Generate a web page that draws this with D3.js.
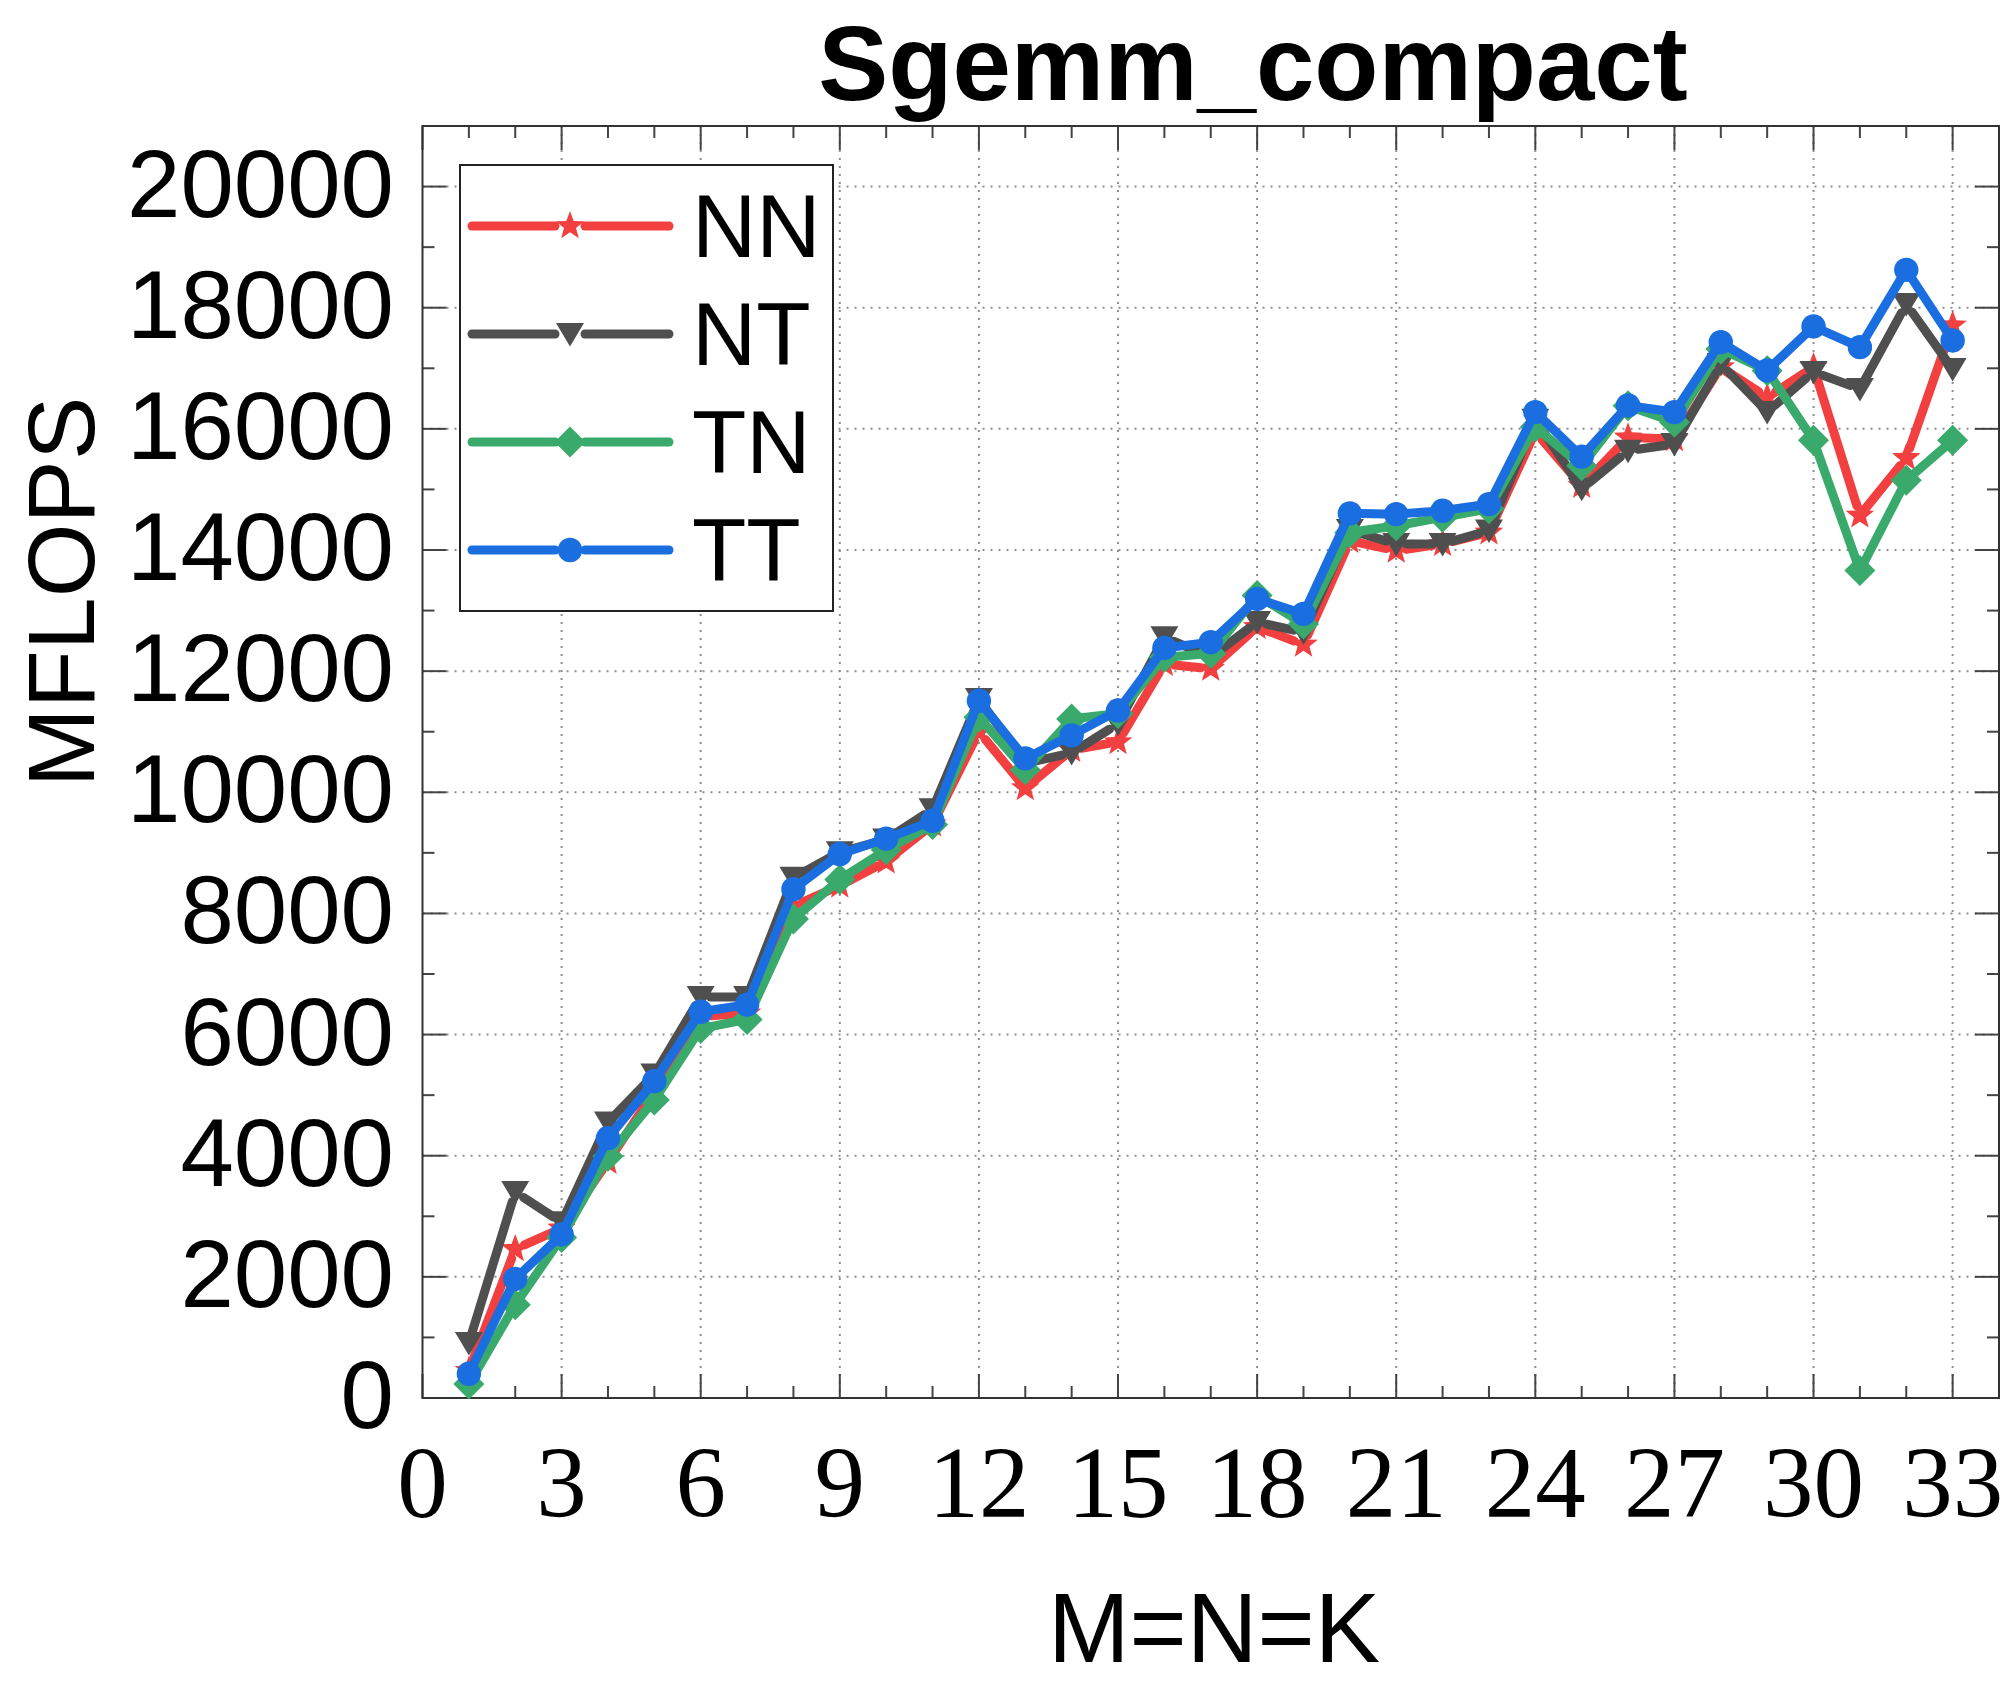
<!DOCTYPE html>
<html>
<head>
<meta charset="utf-8">
<script src="https://cdn.jsdelivr.net/npm/d3@7"></script>
<style>
  html, body { margin: 0; padding: 0; background: #fff; }
  svg { display: block; }
</style>
</head>
<body>
<svg id="chart" width="2010" height="1689"></svg>
<script>
// ---------------- data ----------------
const sizes = d3.range(1, 34); // M=N=K = 1..33

const seriesNames = ["NN", "NT", "TN", "TT"];

const valuesNN = [450, 2460, 2800, 3900, 5060, 6300, 6350, 8120, 8460, 8860, 9470, 11000,
  10070, 10700, 10830, 12120, 12040, 12730, 12440, 14150, 13990, 14100, 14290,
  15950, 15060, 15860, 15830, 17020, 16520, 17020, 14570, 15520, 17710];

const valuesNT = [910, 3400, 2900, 4550, 5340, 6620, 6620, 8590, 9010, 9220, 9720, 11540,
  10480, 10650, 11130, 12560, 12230, 12810, 12640, 14330, 14100, 14100, 14320,
  16150, 15010, 15640, 15750, 17070, 16280, 16940, 16660, 18060, 16990];

const valuesTN = [230, 1540, 2650, 3990, 4920, 6100, 6250, 7910, 8560, 9050, 9470, 11240,
  10370, 11210, 11300, 12230, 12290, 13250, 12780, 14290, 14400, 14540, 14680,
  16030, 15390, 16380, 16110, 17320, 16960, 15810, 13660, 15150, 15810];

const valuesTT = [400, 1965, 2700, 4290, 5230, 6376, 6494, 8400, 8980, 9234, 9529, 11511,
  10560, 10940, 11350, 12384, 12478, 13192, 12945, 14604, 14593, 14648, 14758,
  16276, 15540, 16386, 16276, 17431, 16964, 17690, 17349, 18625, 17459];

const xMajorTicks = d3.range(0, 34, 3);      // 0,3,...,33
const xMinorTicks = d3.range(0, 35, 1);
const yMajorTicks = d3.range(0, 20001, 2000);
const yMinorTicks = d3.range(0, 21001, 1000);

const titleText = "Sgemm_compact";
const xTitle = "M=N=K";
const yTitle = "MFLOPS";

// ---------------- styles ----------------
const colors = { NN: "#f23f3f", NT: "#4f4f4f", TN: "#39aa6b", TT: "#1a6ee0" };
const markers = { NN: "star", NT: "triDown", TN: "diamond", TT: "circle" };
const dataBySeries = { NN: valuesNN, NT: valuesNT, TN: valuesTN, TT: valuesTT };

const sans = "'Liberation Sans', Arial, Helvetica, sans-serif";
const serif = "'Liberation Serif', 'Times New Roman', serif";

const L = 422.5, R = 1999, T = 126, B = 1398;
const x = d3.scaleLinear().domain([0, 34]).range([L, R]);
const y = d3.scaleLinear().domain([0, 21000]).range([B, T]);

const svg = d3.select("#chart");
svg.append("rect").attr("width", 2010).attr("height", 1689).attr("fill", "#fff");

// ---------------- grid ----------------
const grid = svg.append("g");
grid.selectAll("line.gx").data(xMajorTicks.filter(d => d > 0)).join("line")
  .attr("x1", d => x(d)).attr("x2", d => x(d)).attr("y1", T).attr("y2", B)
  .attr("stroke", "#8f8f8f").attr("stroke-width", 2).attr("stroke-dasharray", "2,6");
grid.selectAll("line.gy").data(yMajorTicks.filter(d => d > 0)).join("line")
  .attr("y1", d => y(d)).attr("y2", d => y(d)).attr("x1", L).attr("x2", R)
  .attr("stroke", "#8f8f8f").attr("stroke-width", 2).attr("stroke-dasharray", "2,6");

// ---------------- ticks (inward, on all 4 sides) ----------------
const ticks = svg.append("g").attr("stroke", "#444").attr("stroke-width", 2);
const maj = 24, mnr = 12;
xMinorTicks.forEach(d => {
  const len = (d % 3 === 0) ? maj : mnr;
  ticks.append("line").attr("x1", x(d)).attr("x2", x(d)).attr("y1", B).attr("y2", B - len);
  ticks.append("line").attr("x1", x(d)).attr("x2", x(d)).attr("y1", T).attr("y2", T + len);
});
yMinorTicks.forEach(d => {
  const len = (d % 2000 === 0) ? maj : mnr;
  ticks.append("line").attr("y1", y(d)).attr("y2", y(d)).attr("x1", L).attr("x2", L + len);
  ticks.append("line").attr("y1", y(d)).attr("y2", y(d)).attr("x1", R).attr("x2", R - len);
});

// frame
svg.append("rect").attr("x", L).attr("y", T).attr("width", R - L).attr("height", B - T)
  .attr("fill", "none").attr("stroke", "#333").attr("stroke-width", 2);

// ---------------- tick labels ----------------
svg.append("g").selectAll("text").data(xMajorTicks).join("text")
  .attr("x", d => x(d)).attr("y", 1517)
  .attr("text-anchor", "middle")
  .style("font-family", serif).style("font-size", "101px").attr("fill", "#000")
  .text(d => d);

svg.append("g").selectAll("text").data(yMajorTicks).join("text")
  .attr("x", 394).attr("y", d => y(d) + 30)
  .attr("text-anchor", "end")
  .style("font-family", sans).style("font-size", "96px").attr("fill", "#000")
  .text(d => d);

// ---------------- titles ----------------
svg.append("text").attr("x", 1253).attr("y", 100).attr("text-anchor", "middle")
  .style("font-family", sans).style("font-size", "105px").style("font-weight", "bold")
  .attr("fill", "#000").text(titleText);

svg.append("text").attr("x", 1214).attr("y", 1662).attr("text-anchor", "middle")
  .style("font-family", sans).style("font-size", "98px").attr("fill", "#000").text(xTitle);

svg.append("text").attr("transform", "translate(94,592) rotate(-90)").attr("text-anchor", "middle")
  .style("font-family", sans).style("font-size", "95px").attr("fill", "#000").text(yTitle);

// ---------------- marker shapes ----------------
function starPath(R0) {
  const r0 = R0 * 0.42;
  const pts = [];
  for (let i = 0; i < 10; i++) {
    const a = -Math.PI / 2 + i * Math.PI / 5;
    const rr = i % 2 === 0 ? R0 : r0;
    pts.push([rr * Math.cos(a), rr * Math.sin(a)]);
  }
  return "M" + pts.map(p => p.join(",")).join("L") + "Z";
}
const markerPath = {
  star: starPath(15),
  triDown: "M-14,-11L14,-11L0,12.5Z",
  diamond: "M0,-15.5L15.5,0L0,15.5L-15.5,0Z",
  circle: d3.symbol(d3.symbolCircle, Math.PI * 12.2 * 12.2)()
};

// ---------------- series ----------------
const LW = 9, GAP = 10;
function drawSegments(g, pts, color) {
  for (let i = 0; i < pts.length - 1; i++) {
    const [x1, y1] = pts[i], [x2, y2] = pts[i + 1];
    const dx = x2 - x1, dy = y2 - y1, len = Math.hypot(dx, dy);
    if (len <= 2 * GAP + 1) continue;
    const ux = dx / len, uy = dy / len;
    g.append("line")
      .attr("x1", x1 + ux * GAP).attr("y1", y1 + uy * GAP)
      .attr("x2", x2 - ux * GAP).attr("y2", y2 - uy * GAP)
      .attr("stroke", color).attr("stroke-width", LW).attr("stroke-linecap", "round");
  }
}

seriesNames.forEach(name => {
  const g = svg.append("g").attr("class", "series-" + name);
  const vals = dataBySeries[name];
  const pts = sizes.map((s, i) => [x(s), y(vals[i])]);
  drawSegments(g, pts, colors[name]);
  g.selectAll("path.m").data(sizes).join("path")
    .attr("d", markerPath[markers[name]])
    .attr("transform", (s, i) => `translate(${x(s)},${y(vals[i])})`)
    .attr("fill", colors[name]);
});

// ---------------- legend ----------------
const lg = svg.append("g");
lg.append("rect").attr("x", 460).attr("y", 165).attr("width", 373).attr("height", 446)
  .attr("fill", "#fff").attr("stroke", "#222").attr("stroke-width", 2);
const legendRows = d3.scalePoint().domain(seriesNames).range([226, 550]);
seriesNames.forEach(name => {
  const cy = legendRows(name);
  const row = lg.append("g");
  row.append("line").attr("x1", 472).attr("x2", 555).attr("y1", cy).attr("y2", cy)
    .attr("stroke", colors[name]).attr("stroke-width", LW).attr("stroke-linecap", "round");
  row.append("line").attr("x1", 585).attr("x2", 669).attr("y1", cy).attr("y2", cy)
    .attr("stroke", colors[name]).attr("stroke-width", LW).attr("stroke-linecap", "round");
  row.append("path").attr("d", markerPath[markers[name]])
    .attr("transform", `translate(570,${cy})`).attr("fill", colors[name]);
  row.append("text").attr("x", 692).attr("y", cy + 31)
    .style("font-family", sans).style("font-size", "89px").attr("fill", "#000").text(name);
});
</script>
</body>
</html>
